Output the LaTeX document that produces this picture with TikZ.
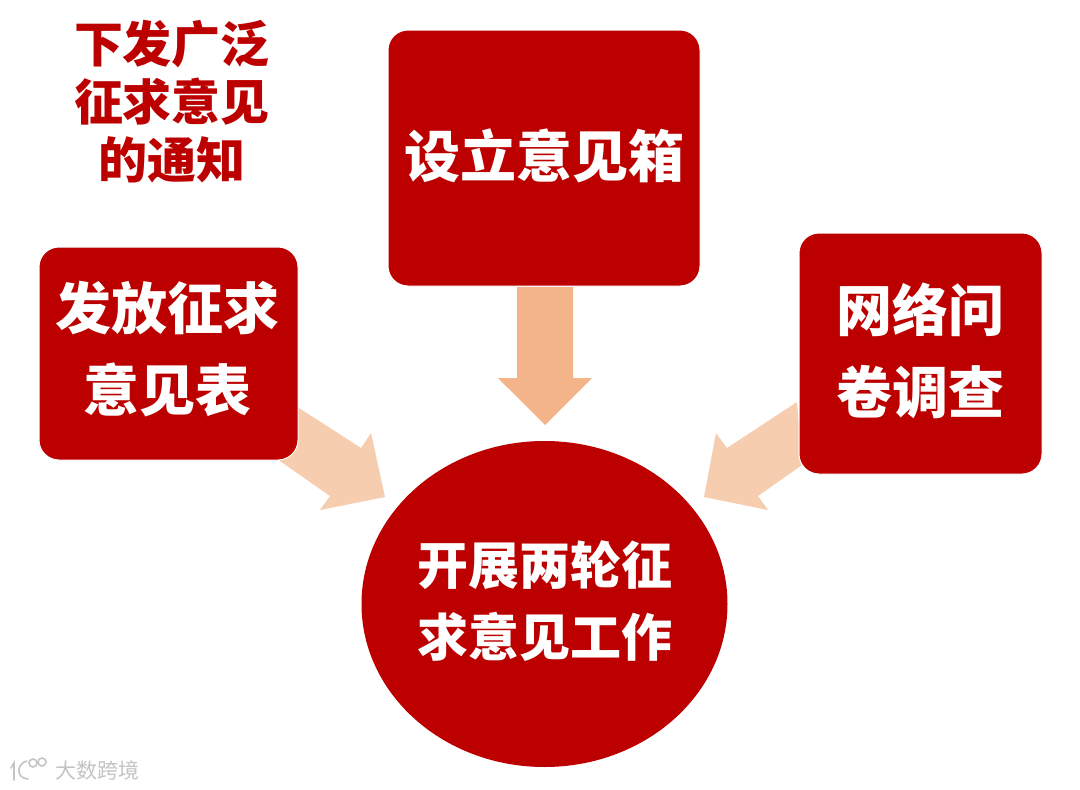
\documentclass[tikz,border=0pt]{standalone}
\usepackage{fontspec}
\setmainfont{Noto Sans CJK SC}[BoldFont={* Black}]
\newfontfamily\wmfont{Noto Sans CJK SC}
\definecolor{redbox}{HTML}{BC0000}
\definecolor{darrow}{HTML}{F4B48A}
\definecolor{larrow}{HTML}{F7CDB0}
\definecolor{wmgrey}{HTML}{C4C4C4}
\tikzset{x=1pt,y=-1pt,
 boxn/.style={fill=redbox,draw=white,line width=1pt,rounded corners=20pt},
 whitet/.style={text=white,font=\fontsize{56}{82}\selectfont\bfseries,align=center,inner sep=0},
 circt/.style={text=white,font=\fontsize{51}{72}\selectfont\bfseries,align=center,inner sep=0},
 smallt/.style={text=redbox,font=\fontsize{49}{58}\selectfont\bfseries,align=center,inner sep=0},
 wmline/.style={draw=wmgrey,line width=1.6pt,line cap=round}}
\begin{document}
\begin{tikzpicture}
\useasboundingbox (0,0) rectangle (1080,790);
\fill[white] (0,0) rectangle (1080,790);
\fill[larrow] (299,408) -- (361,448) -- (371,433) -- (385,497) -- (320,510) -- (330,496) -- (280,461) -- cycle;
\fill[larrow] (797,402) -- (727,448) -- (716,433) -- (704,497) -- (768,510) -- (758,496) -- (802,465) -- cycle;
\fill[darrow] (517,287) -- (573,287) -- (573,378) -- (592,378) -- (545,425) -- (498,378) -- (517,378) -- cycle;
\draw[boxn] (388,30) rectangle (700,286);
\draw[boxn] (39,247) rectangle (298,460);
\draw[boxn] (799,233) rectangle (1042,474);
\fill[redbox] (544.5,604) ellipse [x radius=183,y radius=163];
\node[whitet] (a) at (544,156) {设立意见箱};
\node[whitet] (b) at (168,349) {发放征求\\意见表};
\node[whitet] (c) at (920,351) {网络问\\卷调查};
\node[circt] (d) at (545,601) {开展两轮征\\求意见工作};
\node[smallt] (t) at (172,102) {下发广泛\\征求意见\\的通知};
\node[text=wmgrey,font=\wmfont\fontsize{21}{24}\selectfont,inner sep=0] (w) at (98,770) {大数跨境};
\draw[wmline] (11,768) -- (14,763) -- (14,780);
\draw[wmline] (27,761) .. controls (17,763) and (15,778) .. (28,779);
\draw[wmline] (33,763) circle (4);
\draw[wmline] (42,762) circle (4);
\end{tikzpicture}
\end{document}
